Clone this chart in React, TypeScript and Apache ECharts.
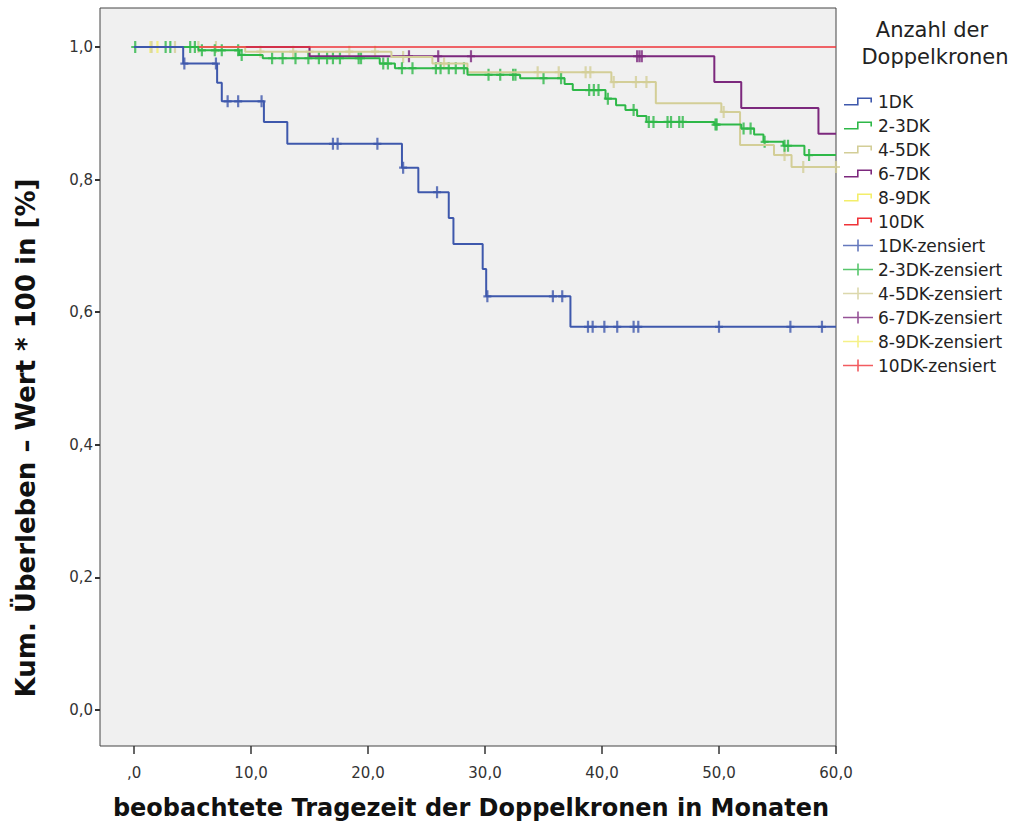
import React, { useEffect, useRef } from "react";
import * as echarts from "echarts";

// ---- axes ----
const xTicks = [0, 10, 20, 30, 40, 50, 60];
const yTicks = [0, 0.2, 0.4, 0.6, 0.8, 1.0];

// ---- groups ----
const groupNames = ["1DK", "2-3DK", "4-5DK", "6-7DK", "8-9DK", "10DK"];
const groupColors = ["#3E58AC", "#2EB848", "#D3CE97", "#7C287D", "#F3EE6A", "#EF3338"];

// ---- 1DK ----
const dk1Times = [0, 4.2, 7.1, 7.5, 11.1, 13.1, 22.9, 24.3, 26.9, 27.3, 29.8, 30.1, 37.3];
const dk1Surv = [1.0, 0.975, 0.946, 0.918, 0.887, 0.854, 0.818, 0.781, 0.742, 0.703, 0.665, 0.624, 0.578];
const dk1End = 60;
const dk1Censored = [4.3, 7.0, 8.0, 8.9, 10.9, 17.0, 17.4, 20.8, 23.0, 25.9, 30.2, 35.8, 36.6, 38.8, 39.2, 40.2, 41.3, 42.7, 43.1, 50.0, 56.1, 58.8];

// ---- 2-3DK ----
const dk23Times = [0, 5.5, 9.0, 11.0, 21.0, 22.3, 28.5, 33.0, 36.8, 37.5, 40.3, 41.2, 42.0, 43.0, 43.8, 49.6, 51.9, 53.0, 53.8, 55.5, 57.3];
const dk23Surv = [1.0, 0.995, 0.988, 0.983, 0.975, 0.968, 0.958, 0.953, 0.944, 0.935, 0.922, 0.912, 0.905, 0.896, 0.887, 0.883, 0.877, 0.868, 0.857, 0.851, 0.837];
const dk23End = 60;
const dk23Censored = [0.1, 2.7, 3.1, 4.8, 5.2, 5.8, 6.9, 7.5, 8.9, 9.2, 11.8, 12.7, 13.8, 14.9, 15.8, 16.5, 17.0, 17.6, 19.2, 19.4, 21.3, 21.7, 22.9, 23.8, 25.8, 26.2, 26.9, 27.5, 28.2, 30.3, 31.3, 32.4, 32.6, 35.0, 36.5, 38.9, 39.3, 39.7, 40.5, 42.7, 44.0, 44.4, 45.6, 45.9, 46.6, 46.9, 49.7, 49.8, 52.1, 52.7, 53.9, 55.6, 55.9, 57.7];

// ---- 4-5DK ----
const dk45Times = [0, 9.5, 22.0, 25.5, 28.5, 40.8, 44.6, 50.2, 51.8, 54.7, 56.2];
const dk45Surv = [1.0, 0.993, 0.985, 0.975, 0.962, 0.947, 0.915, 0.902, 0.852, 0.837, 0.819];
const dk45End = 60;
const dk45Censored = [1.5, 3.5, 5.5, 7.0, 10.8, 13.6, 15.0, 18.4, 20.6, 23.0, 26.5, 34.5, 36.3, 38.6, 39.0, 41.0, 42.9, 43.8, 50.4, 55.6, 57.2, 60.0];

// ---- 6-7DK ----
const dk67Times = [0, 15.0, 49.6, 51.9, 58.5];
const dk67Surv = [1.0, 0.986, 0.947, 0.908, 0.869];
const dk67End = 60;
const dk67Censored = [23.5, 26.0, 28.8, 43.0, 43.2, 43.4];

// ---- 8-9DK ----
const dk89Times = [0];
const dk89Surv = [1.0];
const dk89End = 2.0;
const dk89Censored = [1.4, 2.0];

// ---- 10DK ----
const dk10Times = [0];
const dk10Surv = [1.0];
const dk10End = 60;
const dk10Censored: number[] = [];

const groupTimes = [dk1Times, dk23Times, dk45Times, dk67Times, dk89Times, dk10Times];
const groupSurv = [dk1Surv, dk23Surv, dk45Surv, dk67Surv, dk89Surv, dk10Surv];
const groupEnd = [dk1End, dk23End, dk45End, dk67End, dk89End, dk10End];
const groupCensored = [dk1Censored, dk23Censored, dk45Censored, dk67Censored, dk89Censored, dk10Censored];

// drawing order (bottom -> top)
const drawOrder = [3, 4, 2, 5, 1, 0];

const plusSymbol = "path://M-1.1,-6 H1.1 V-1.1 H4 V1.1 H1.1 V6 H-1.1 V1.1 H-4 V-1.1 H-1.1 Z";
const stepIcon = "path://M0,0 M30,14 M1,9.4 H14 V3 H29 V8 H27.4 V4.6 H15.6 V11 H1 Z";
const plusIcon = "path://M0,0 M30,14 M0,6.2 H14.2 V1 H15.8 V6.2 H30 V7.8 H15.8 V13 H14.2 V7.8 H0 Z";

function survAt(times: number[], surv: number[], t: number): number {
  let s = surv[0];
  for (let i = 0; i < times.length; i++) {
    if (times[i] <= t) s = surv[i];
  }
  return s;
}

export default function App() {
  const ref = useRef<HTMLDivElement>(null);

  useEffect(() => {
    if (!ref.current) return;
    const chart = echarts.init(ref.current, undefined, { renderer: "svg" });

    const series: any[] = [];
    drawOrder.forEach((gi) => {
      const times = groupTimes[gi];
      const surv = groupSurv[gi];
      const lineData = times.map((t, i) => [t, surv[i]]);
      lineData.push([groupEnd[gi], surv[surv.length - 1]]);
      series.push({
        type: "line",
        name: groupNames[gi],
        data: lineData,
        step: "end",
        showSymbol: false,
        symbol: "none",
        color: groupColors[gi],
        lineStyle: { width: gi === 5 ? 1.5 : 2, color: groupColors[gi] },
        itemStyle: { color: groupColors[gi] },
      });
    });
    drawOrder.forEach((gi) => {
      const times = groupTimes[gi];
      const surv = groupSurv[gi];
      series.push({
        type: "scatter",
        name: groupNames[gi] + "-zensiert",
        data: groupCensored[gi].map((t) => [t, survAt(times, surv, t)]),
        symbol: plusSymbol,
        symbolSize: [8, 12],
        color: groupColors[gi],
        itemStyle: { color: groupColors[gi] },
      });
    });

    const legendData: any[] = [];
    groupNames.forEach((n) => legendData.push({ name: n, icon: stepIcon }));
    groupNames.forEach((n) => legendData.push({ name: n + "-zensiert", icon: plusIcon }));

    const option: any = {
      animation: false,
      backgroundColor: "#ffffff",
      grid: {
        left: 100,
        right: 180,
        top: 8,
        bottom: 81,
        show: true,
        backgroundColor: "#F0F0F0",
        borderColor: "#444444",
        borderWidth: 1,
        containLabel: false,
      },
      xAxis: {
        type: "value",
        min: -2.91,
        max: 60,
        axisLine: { show: false, onZero: false },
        splitLine: { show: false },
        axisTick: {
          show: true,
          customValues: xTicks,
          length: 8,
          inside: false,
          lineStyle: { color: "#333", width: 1.5 },
        },
        axisLabel: {
          customValues: xTicks,
          margin: 19,
          color: "#333",
          fontSize: 15,
          fontFamily: "DejaVu Sans",
          formatter: (v: number) => (v === 0 ? ",0" : v.toFixed(1).replace(".", ",")),
        },
      },
      yAxis: {
        type: "value",
        min: -0.0543,
        max: 1.0588,
        axisLine: { show: false, onZero: false },
        splitLine: { show: false },
        axisTick: {
          show: true,
          customValues: yTicks,
          length: 5,
          inside: false,
          lineStyle: { color: "#333", width: 2 },
        },
        axisLabel: {
          customValues: yTicks,
          margin: 7,
          color: "#333",
          fontSize: 15,
          fontFamily: "DejaVu Sans",
          formatter: (v: number) => v.toFixed(1).replace(".", ","),
        },
      },
      legend: {
        orient: "vertical",
        left: 838,
        top: 88,
        itemWidth: 30,
        itemHeight: 14,
        itemGap: 7,
        selectedMode: false,
        symbolKeepAspect: false,
        itemStyle: { borderWidth: 0 },
        textStyle: { fontSize: 17, fontFamily: "DejaVu Sans", color: "#222" },
        data: legendData,
      },
      graphic: [
        {
          type: "text",
          x: 932,
          y: 30,
          style: {
            text: "Anzahl der",
            fontSize: 21,
            fontFamily: "DejaVu Sans",
            fill: "#222",
            align: "center",
            verticalAlign: "middle",
            textAlign: "center",
            textVerticalAlign: "middle",
          },
        },
        {
          type: "text",
          x: 935,
          y: 57,
          style: {
            text: "Doppelkronen",
            fontSize: 21,
            fontFamily: "DejaVu Sans",
            fill: "#222",
            align: "center",
            verticalAlign: "middle",
            textAlign: "center",
            textVerticalAlign: "middle",
          },
        },
        {
          type: "text",
          x: 471,
          y: 808,
          style: {
            text: "beobachtete Tragezeit der Doppelkronen in Monaten",
            fontSize: 24,
            fontWeight: "bold",
            fontFamily: "DejaVu Sans",
            fill: "#111",
            align: "center",
            verticalAlign: "middle",
            textAlign: "center",
            textVerticalAlign: "middle",
          },
        },
        {
          type: "text",
          x: 26,
          y: 438,
          rotation: Math.PI / 2,
          style: {
            text: "Kum. Überleben – Wert * 100 in [%]",
            fontSize: 26,
            fontWeight: "bold",
            fontFamily: "DejaVu Sans",
            fill: "#111",
            align: "center",
            verticalAlign: "middle",
            textAlign: "center",
            textVerticalAlign: "middle",
          },
        },
      ],
      series,
    };

    chart.setOption(option);
    return () => {
      chart.dispose();
    };
  }, []);

  return (
    <div
      ref={ref}
      style={{ position: "absolute", left: 0, top: 0, width: 1016, height: 827 }}
    />
  );
}
